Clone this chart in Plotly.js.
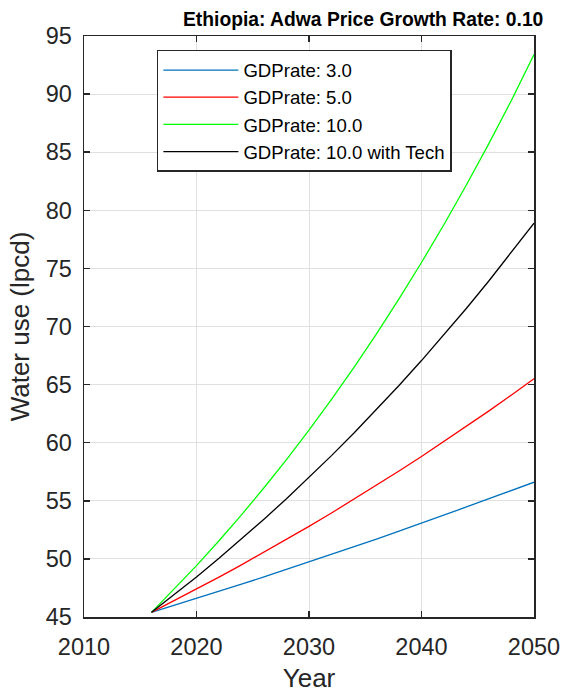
<!DOCTYPE html>
<html>
<head>
<meta charset="utf-8">
<script src="https://cdn.plot.ly/plotly-3.0.1.min.js"></script>
<style>html,body{margin:0;padding:0;background:#fff;}#chart{width:566px;height:696px;}</style>
</head>
<body>
<div id="chart"></div>
<script>
var years = [2016,2018,2020,2022,2024,2026,2028,2030,2032,2034,2036,2038,2040,2042,2044,2046,2048,2050];
var gdp3 = [45.4,45.99,46.59,47.20,47.82,48.45,49.09,49.73,50.38,51.04,51.71,52.39,53.07,53.77,54.47,55.18,55.90,56.6];
var gdp5 = [45.4,46.39,47.40,48.43,49.49,50.57,51.67,52.80,53.95,55.13,56.33,57.56,58.81,60.10,61.41,62.74,64.11,65.5];
var gdp10 = [45.4,47.37,49.42,51.56,53.79,56.12,58.55,61.09,63.73,66.49,69.37,72.38,75.51,78.78,82.20,85.76,89.47,93.4];
var gdp10tech = [45.4,46.90,48.45,50.05,51.71,53.42,55.18,57.00,58.89,60.83,62.85,64.92,67.07,69.28,71.57,73.94,76.38,78.9];
var names = ['GDPrate: 3.0','GDPrate: 5.0','GDPrate: 10.0','GDPrate: 10.0 with Tech'];
var colors = ['#0072BD','#FF0000','#00FF00','#000000'];
var series = [gdp3, gdp5, gdp10, gdp10tech];
var xTicks = [2010,2020,2030,2040,2050];
var yTicks = [45,50,55,60,65,70,75,80,85,90,95];

var traces = series.map(function(s,i){
  return {x: years, y: s, type:'scatter', mode:'lines', name: names[i],
          line:{color: colors[i], width:1.3}};
});

var FONT = 'Liberation Sans, Arial, sans-serif';
var axisCommon = {
  showline:true, linecolor:'#262626', linewidth:1.5, mirror:'ticks',
  ticks:'inside', ticklen:6, tickcolor:'#262626', tickwidth:1.5,
  showgrid:true, gridcolor:'#e0e0e0', gridwidth:1, zeroline:false,
  tickfont:{family:FONT, size:23.5, color:'#262626'}
};

var layout = {
  width:566, height:696,
  margin:{l:84, r:32, t:36, b:79},
  paper_bgcolor:'#fff', plot_bgcolor:'#fff',
  font:{family:FONT, color:'#262626'},
  title:{text:'<b>Ethiopia: Adwa Price Growth Rate: 0.10</b>', font:{size:19.3, color:'#000', family:FONT},
         x:0.96, xanchor:'right', xref:'container', y:0.973, yanchor:'middle', yref:'container'},
  xaxis: Object.assign({}, axisCommon, {range:[2010,2050], tickvals:xTicks, ticklabelstandoff:8,
          title:{text:'Year', font:{size:26, color:'#262626', family:FONT}, standoff:10}}),
  yaxis: Object.assign({}, axisCommon, {range:[45,95], tickvals:yTicks, ticklabelstandoff:6,
          title:{text:'Water use (lpcd)', font:{size:26, color:'#262626', family:FONT}, standoff:8}}),
  legend:{x:0.162, y:0.976, xanchor:'left', yanchor:'top', bgcolor:'#fff',
          bordercolor:'#262626', borderwidth:1.5, itemwidth:75,
          font:{size:18.6, color:'#000', family:FONT}, tracegroupgap:0}
};

Plotly.newPlot('chart', traces, layout, {displayModeBar:false, staticPlot:true});
</script>
</body>
</html>
